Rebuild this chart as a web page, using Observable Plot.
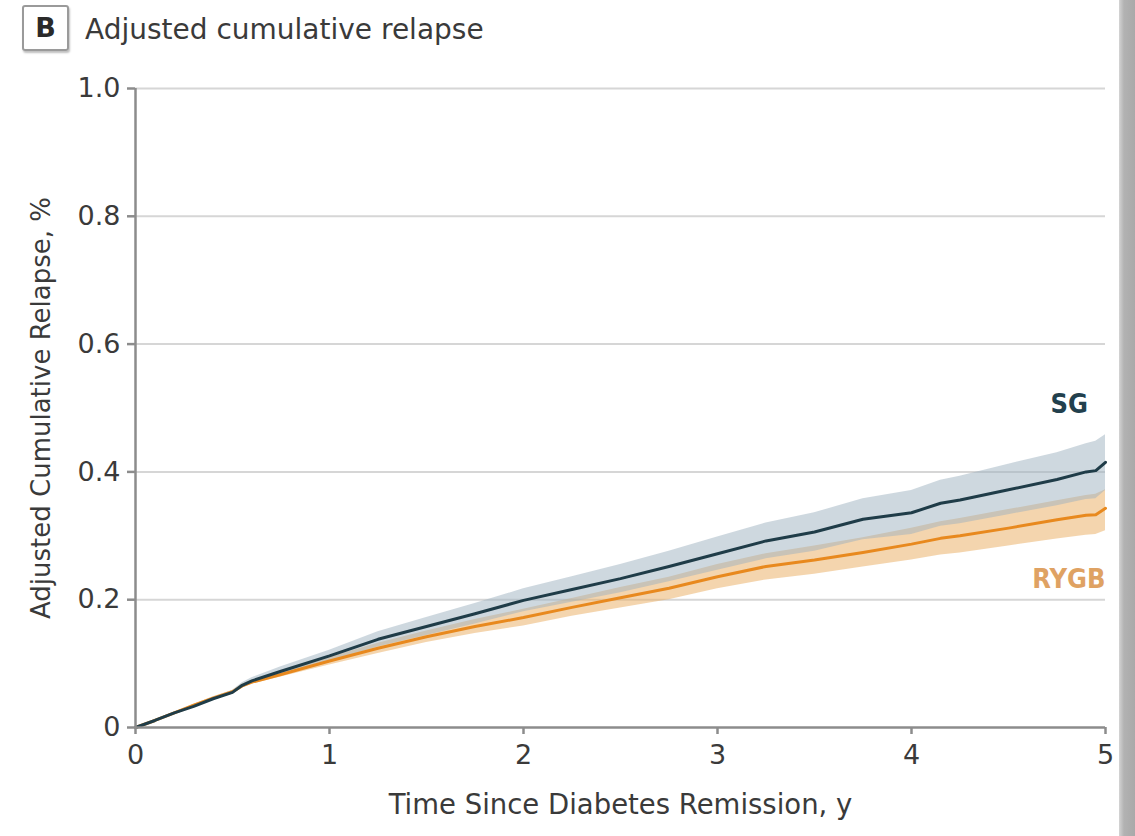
<!DOCTYPE html>
<html>
<head>
<meta charset="utf-8">
<script src="https://cdn.jsdelivr.net/npm/d3@7"></script>
<script src="https://cdn.jsdelivr.net/npm/@observablehq/plot@0.6"></script>
<style>
  html, body { margin: 0; padding: 0; background: #fff; }
  body { width: 1135px; height: 836px; position: relative; overflow: hidden;
         font-family: "DejaVu Sans", sans-serif; }
  #header { position: absolute; left: 0; top: 0; width: 1135px; height: 64px; }
  #badge { position: absolute; left: 22px; top: 5px; width: 43px; height: 42px;
           border: 2px solid #9a9a9a; border-radius: 3px; box-shadow: 1px 2px 2px rgba(0,0,0,0.25);
           font-weight: bold; font-size: 27px; color: #2a2a2a; text-align: center; line-height: 42px; }
  #title { position: absolute; left: 85px; top: 13px; font-size: 28px; color: #3a3a3a; white-space: nowrap; }
  #chart { position: absolute; left: 0; top: 64px; }
  #edge { position: absolute; left: 1119px; top: 0; width: 16px; height: 836px;
          background: linear-gradient(to right, #d4d4d4 0px, #b2b2b2 5px, #a9a9a9 16px); }
</style>
</head>
<body>
<div id="header"><div id="badge">B</div><div id="title">Adjusted cumulative relapse</div></div>
<div id="chart"></div>
<div id="edge"></div>
<script>
// time since remission (years)
const times = [0, 0.1, 0.2, 0.3, 0.4, 0.5, 0.55, 0.6, 0.75, 1.0, 1.25, 1.5, 1.75, 2.0, 2.25, 2.5, 2.75, 3.0, 3.25, 3.5, 3.75, 4.0, 4.15, 4.25, 4.5, 4.75, 4.9, 4.95, 5.0];
// SG estimate and confidence band
const sgEst   = [0, 0.011, 0.023, 0.033, 0.045, 0.055, 0.066, 0.073, 0.088, 0.112, 0.138, 0.158, 0.178, 0.199, 0.216, 0.233, 0.252, 0.272, 0.292, 0.306, 0.326, 0.336, 0.351, 0.356, 0.372, 0.388, 0.400, 0.402, 0.415];
const sgUpper = [0, 0.012, 0.024, 0.035, 0.047, 0.058, 0.070, 0.078, 0.095, 0.121, 0.150, 0.172, 0.194, 0.217, 0.236, 0.255, 0.276, 0.298, 0.320, 0.336, 0.358, 0.371, 0.387, 0.393, 0.412, 0.430, 0.444, 0.448, 0.458];
const sgLower = [0, 0.010, 0.022, 0.031, 0.043, 0.052, 0.062, 0.068, 0.081, 0.103, 0.126, 0.144, 0.162, 0.181, 0.196, 0.211, 0.228, 0.246, 0.264, 0.276, 0.294, 0.302, 0.315, 0.319, 0.333, 0.347, 0.357, 0.358, 0.371];
// RYGB estimate and confidence band
const rygbEst   = [0, 0.011, 0.023, 0.035, 0.046, 0.056, 0.065, 0.071, 0.083, 0.104, 0.124, 0.142, 0.158, 0.172, 0.188, 0.203, 0.218, 0.236, 0.252, 0.262, 0.274, 0.287, 0.296, 0.300, 0.312, 0.325, 0.332, 0.333, 0.343];
const rygbUpper = [0, 0.012, 0.024, 0.036, 0.048, 0.058, 0.068, 0.074, 0.087, 0.110, 0.132, 0.151, 0.169, 0.185, 0.202, 0.219, 0.235, 0.255, 0.272, 0.284, 0.297, 0.312, 0.322, 0.327, 0.341, 0.355, 0.363, 0.365, 0.372];
const rygbLower = [0, 0.010, 0.022, 0.034, 0.044, 0.054, 0.062, 0.068, 0.079, 0.098, 0.116, 0.133, 0.147, 0.159, 0.174, 0.187, 0.200, 0.217, 0.231, 0.240, 0.251, 0.262, 0.270, 0.273, 0.284, 0.295, 0.301, 0.302, 0.308];

const xTicks = [0, 1, 2, 3, 4, 5];
const yTicks = [0, 0.2, 0.4, 0.6, 0.8, 1.0];
const yTickLabels = ["0", "0.2", "0.4", "0.6", "0.8", "1.0"];
const gridTicks = [0.2, 0.4, 0.6, 0.8, 1.0];

const seriesLabels = [
  {name: "SG", x: 4.91, y: 0.505, color: "#22404d"},
  {name: "RYGB", x: 5.0, y: 0.232, color: "#dfa263"}
];

const sg = times.map((t, i) => ({t, est: sgEst[i], lo: sgLower[i], hi: sgUpper[i]}));
const rygb = times.map((t, i) => ({t, est: rygbEst[i], lo: rygbLower[i], hi: rygbUpper[i]}));

const axisColor = "#8c8c8c";
const font = "'DejaVu Sans', sans-serif";
const condensed = "'DejaVu Sans Condensed', 'DejaVu Sans', sans-serif";

const chart = Plot.plot({
  width: 1135,
  height: 772,
  marginLeft: 135,
  marginRight: 30,
  marginTop: 24,
  marginBottom: 109,
  style: {fontFamily: font, fontSize: "27px", color: "#3a3a3a", background: "transparent"},
  x: {domain: [0, 5]},
  y: {domain: [0, 1]},
  marks: [
    Plot.ruleY(gridTicks, {stroke: "#d6d6d6", strokeWidth: 2}),
    Plot.areaY(rygb, {x: "t", y1: "lo", y2: "hi", fill: "#ebb36c", fillOpacity: 0.55}),
    Plot.areaY(sg, {x: "t", y1: "lo", y2: "hi", fill: "#9db2c0", fillOpacity: 0.5}),
    Plot.lineY(rygb, {x: "t", y: "est", stroke: "#e8891e", strokeWidth: 3}),
    Plot.lineY(sg, {x: "t", y: "est", stroke: "#1f3c48", strokeWidth: 3}),
    Plot.ruleX([0], {stroke: axisColor, strokeWidth: 2.5}),
    Plot.ruleY([0], {stroke: axisColor, strokeWidth: 2.5}),
    Plot.axisX({ticks: xTicks, tickFormat: d => String(d), tickSize: 7, tickPadding: 10,
                stroke: axisColor, strokeWidth: 2.5, label: null, fontSize: 27}),
    Plot.axisX({ticks: [], label: "Time Since Diabetes Remission, y", labelAnchor: "center",
                labelOffset: 86, labelArrow: "none", fontSize: 27.5, stroke: "none"}),
    Plot.axisY({ticks: yTicks, tickFormat: (d, i) => yTickLabels[i], tickSize: 8, tickPadding: 7,
                stroke: axisColor, strokeWidth: 2.5, label: null, fontSize: 27}),
    Plot.axisY({ticks: [], label: "Adjusted Cumulative Relapse, %", labelAnchor: "center",
                labelOffset: 104, labelArrow: "none", fontSize: 26, stroke: "none"}),
    Plot.text(seriesLabels, {x: "x", y: "y", text: "name", fill: "color", textAnchor: "end",
                             fontSize: 27, fontWeight: "bold", fontFamily: condensed})
  ]
});
document.getElementById("chart").appendChild(chart);
</script>
</body>
</html>
